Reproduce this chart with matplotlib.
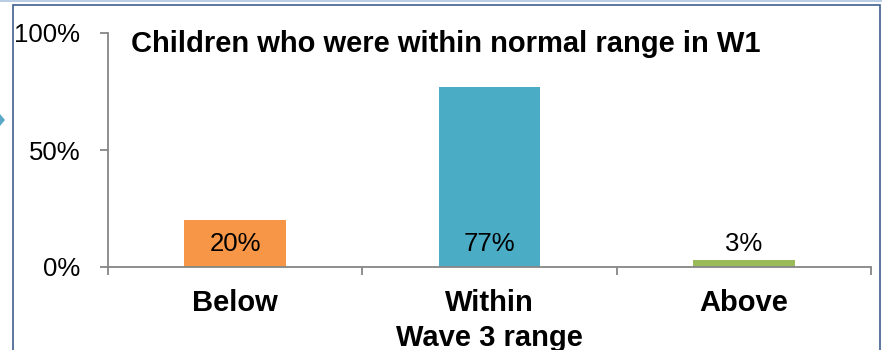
import matplotlib
matplotlib.use('Agg')
import matplotlib.pyplot as plt
from matplotlib.patches import Rectangle, Polygon
from matplotlib.ticker import PercentFormatter

plt.rcParams['font.family'] = ['Liberation Sans', 'DejaVu Sans']

categories = ['Below', 'Within', 'Above']
shares = [0.20, 0.77, 0.03]
bar_labels = ['20%', '77%', '3%']
bar_colors = ['#F79646', '#4BACC6', '#9BBB59']
title = 'Children who were within normal range in W1'
axis_title = 'Wave 3 range'

W, H = 882, 350
fig = plt.figure(figsize=(W / 100, H / 100), dpi=100)
ax = fig.add_axes([108 / W, 83 / H, (871 - 108) / W, (267 - 33) / H])

x = range(len(categories))
ax.bar(x, shares, width=0.4, color=bar_colors)

# labels sit near the base of each bar (Excel "inside base")
for i, lab in enumerate(bar_labels):
    ax.text(i, 0.10, lab, ha='center', va='center', fontsize=18.5, color='black')

ax.set_xlim(-0.5, 2.5)
ax.set_ylim(0, 1)
ax.set_yticks([0, 0.5, 1])
ax.yaxis.set_major_formatter(PercentFormatter(1.0, decimals=0))

ax.set_xticks(list(x))
ax.set_xticklabels(categories, fontsize=21, fontweight='bold')
ax.set_xticks([-0.5, 0.5, 1.5, 2.5], minor=True)
ax.tick_params(axis='x', which='major', length=0, pad=16)
ax.tick_params(axis='x', which='minor', length=6, width=1.3, color='#868686', direction='out')
ax.tick_params(axis='y', length=6, width=1.3, color='#868686', labelsize=18.5, pad=14)
ax.set_xlabel(axis_title, fontsize=21, fontweight='bold', labelpad=5)

for s in ['top', 'right']:
    ax.spines[s].set_visible(False)
for s in ['left', 'bottom']:
    ax.spines[s].set_color('#868686')
    ax.spines[s].set_linewidth(1.3)

fig.text(131 / W, 1 - 44 / H, title, fontsize=21, fontweight='bold', ha='left', va='center')

# outer frame of the slide panel
fig.patches.append(Rectangle((13 / W, -0.05), (880 - 13) / W, 1.05 - 5 / H,
                             transform=fig.transFigure, fill=False,
                             edgecolor='#3F5F8F', linewidth=1.2))
fig.patches.append(Rectangle((0, 1 - 1.5 / H), 1, 1.5 / H, transform=fig.transFigure,
                             color='#B9CDE5', linewidth=0))
# small arrow tip poking in from the left edge
fig.patches.append(Polygon([(0, 1 - 114 / H), (5 / W, 1 - 120 / H), (0, 1 - 126 / H)],
                           closed=True, transform=fig.transFigure,
                           color='#5BA7C9', linewidth=0))

fig.savefig('out.png', dpi=100)
